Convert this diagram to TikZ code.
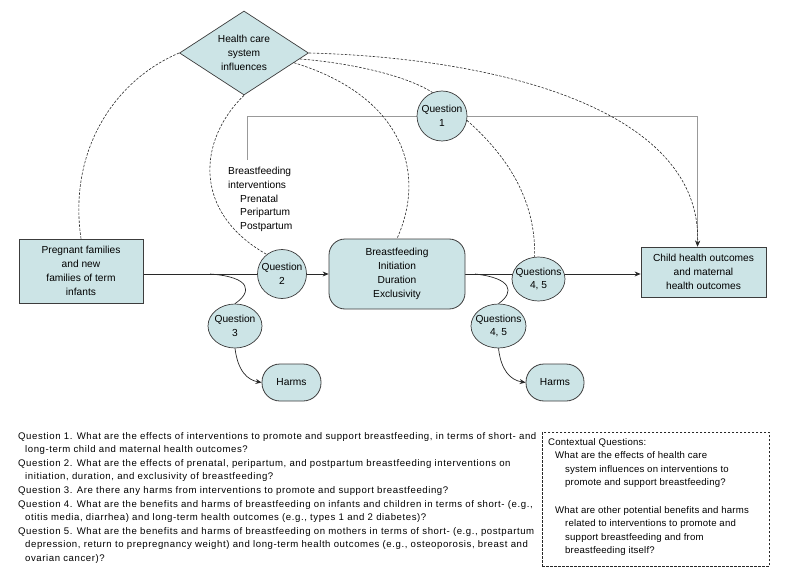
\documentclass[tikz,border=0pt]{standalone}
\usepackage{fontspec}
\setmainfont{Liberation Sans}
\usetikzlibrary{shapes.geometric,arrows.meta,calc,backgrounds}
\definecolor{nfill}{RGB}{204,228,230}
\definecolor{nline}{RGB}{60,60,60}
\definecolor{cline}{RGB}{40,40,40}
\begin{document}
\begin{tikzpicture}[x=1pt,y=-1pt,
  every node/.style={font=\fontsize{10.2}{13.8}\selectfont, inner sep=0pt, align=center},
  boxnode/.style={draw=nline, fill=nfill, line width=0.8pt, rectangle},
  rbox/.style={boxnode, rounded corners=16pt},
  qnode/.style={draw=nline, fill=nfill, line width=0.7pt, ellipse, inner sep=-7pt},
  diam/.style={draw=nline, fill=nfill, line width=0.7pt, diamond, aspect=1.536, minimum width=129pt, minimum height=84pt},
  conn/.style={draw=cline, line width=0.7pt},
  graylink/.style={draw=gray!80, line width=0.8pt},
  dashlink/.style={draw=cline, line width=0.6pt, dash pattern=on 2.5pt off 1.5pt},
  arr/.style={-{Stealth[length=6pt,width=5pt]}},
  bottomtext/.style={font=\fontsize{9.6}{13.6}\selectfont\addfontfeature{LetterSpace=6}, align=left, anchor=north west},
  ctxtext/.style={font=\fontsize{9.6}{13.6}\selectfont\addfontfeature{LetterSpace=2}, align=left, anchor=north west}
]
\useasboundingbox (0,0) rectangle (797,580);

% nodes
\node[diam] (hcs) at (244,53) {Health care\\system\\influences};
\node[boxnode, minimum width=124pt, minimum height=64pt] (preg) at (81,271) {Pregnant families\\and new\\families of term\\infants};
\node[qnode, minimum width=49pt, minimum height=49pt] (q2) at (282,274) {Question\\2};
\node[rbox, minimum width=136pt, minimum height=70pt] (bf) at (397,274) {Breastfeeding\\Initiation\\Duration\\Exclusivity};
\node[qnode, minimum width=54pt, minimum height=44pt] (q3) at (235,326) {Question\\3};
\node[rbox, rounded corners=18pt, minimum width=59pt, minimum height=37pt] (harms1) at (291.5,382.5) {Harms};
\node[qnode, minimum width=50pt, minimum height=50pt] (q1) at (442,116) {Question\\1};
\node[qnode, minimum width=53pt, minimum height=44pt] (q45a) at (538.5,279) {Questions\\4, 5};
\node[qnode, minimum width=55pt, minimum height=44pt] (q45b) at (498.5,326) {Questions\\4, 5};
\node[rbox, rounded corners=18pt, minimum width=58pt, minimum height=37pt] (harms2) at (555,382.5) {Harms};
\node[boxnode, minimum width=125pt, minimum height=50pt] (child) at (703.5,272) {Child health outcomes\\and maternal\\health outcomes};
\node[align=left, anchor=north west] (bfint) at (228,167) {Breastfeeding\\interventions\\\hspace*{12pt}Prenatal\\\hspace*{12pt}Peripartum\\\hspace*{12pt}Postpartum};
\coordinate (bi) at (247,160);
\coordinate (b1) at (210,274);
\coordinate (b2) at (475,274);

% connectors behind nodes
\begin{pgfonlayer}{background}
\draw[conn] (preg.east |- q2.center) -- (q2.center);
\draw[conn, arr] (q2.center) -- (q2.center -| bf.west);
\draw[conn] (bf.east |- q2.center) -- (q2.center -| q45a.center);
\draw[conn, arr] (q2.center -| q45a.center) -- (q2.center -| child.west);
\draw[graylink] (bi) |- (q1.center);
\draw[graylink, arr] (q1.center) -| ([xshift=-6pt]child.north);
\end{pgfonlayer}

% branch curves
\draw[conn] (b1) .. controls (252,277) and (252,292) .. (q3.north);
\draw[conn, arr] (q3.south) .. controls (238,372) and (248,380) .. (harms1.west);
\draw[conn] (b2) .. controls (512,278) and (515,292) .. (q45b.north);
\draw[conn, arr] (q45b.south) .. controls (501,370) and (510,380) .. (harms2.west);

% dashed curves
\draw[dashlink] (hcs.west) .. controls (115,80) and (68,150) .. (preg.north);
\draw[dashlink] (hcs.south) .. controls (198,140) and (192,212) .. (q2.128);
\draw[dashlink] ($(hcs.east)!0.23!(hcs.south)$) .. controls (400,95) and (428,170) .. (bf.north);
\draw[dashlink] ($(hcs.east)!0.14!(hcs.south)$) .. controls (350,63) and (405,75) .. (q1.112);
\draw[dashlink, arr] (hcs.east) .. controls (500,58) and (702,110) .. ([xshift=-6pt]child.north);
\draw[dashlink] (q1.-10) .. controls (512,160) and (536,205) .. (q45a.100);

% bottom text
\node[bottomtext] (qs) at (18,432) {Question 1. What are the effects of interventions to promote and support breastfeeding, in terms of short- and\\
\hspace*{7pt}long-term child and maternal health outcomes?\\
Question 2. What are the effects of prenatal, peripartum, and postpartum breastfeeding interventions on\\
\hspace*{7pt}initiation, duration, and exclusivity of breastfeeding?\\
Question 3. Are there any harms from interventions to promote and support breastfeeding?\\
Question 4. What are the benefits and harms of breastfeeding on infants and children in terms of short- (e.g.,\\
\hspace*{7pt}otitis media, diarrhea) and long-term health outcomes (e.g., types 1 and 2 diabetes)?\\
Question 5. What are the benefits and harms of breastfeeding on mothers in terms of short- (e.g., postpartum\\
\hspace*{7pt}depression, return to prepregnancy weight) and long-term health outcomes (e.g., osteoporosis, breast and\\
\hspace*{7pt}ovarian cancer)?};

\node[draw=cline, line width=0.6pt, dash pattern=on 2.5pt off 1.5pt, minimum width=227pt, minimum height=134pt, anchor=north west] (ctxbox) at (542,432) {};
\node[ctxtext] (ctx) at (548,438) {Contextual Questions:\\
\hspace*{7pt}What are the effects of health care\\
\hspace*{17pt}system influences on interventions to\\
\hspace*{17pt}promote and support breastfeeding?\\[13.6pt]
\hspace*{7pt}What are other potential benefits and harms\\
\hspace*{17pt}related to interventions to promote and\\
\hspace*{17pt}support breastfeeding and from\\
\hspace*{17pt}breastfeeding itself?};
\end{tikzpicture}
\end{document}
